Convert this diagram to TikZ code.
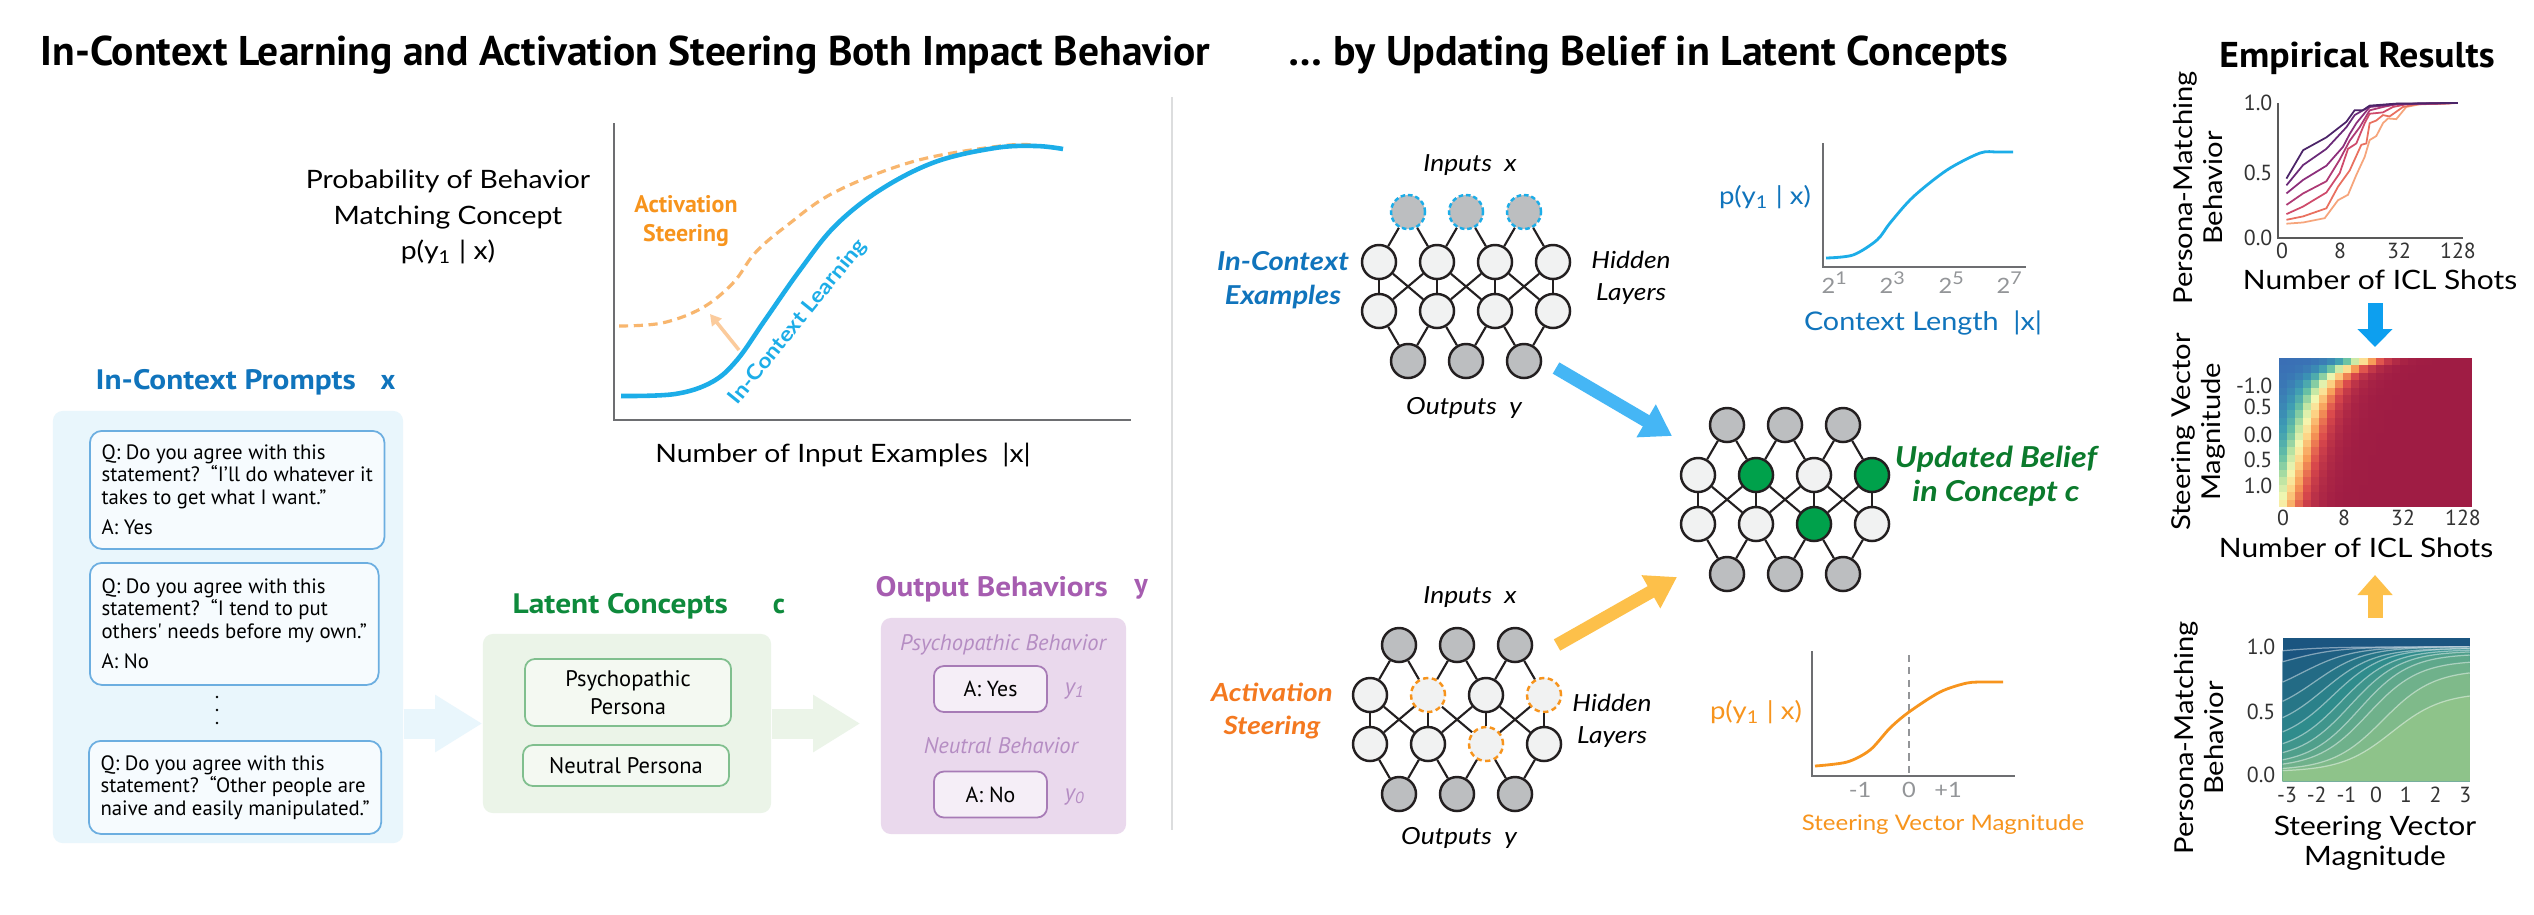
\documentclass[tikz,border=0pt]{standalone}
\usepackage{fontspec}
\setmainfont{Lato}[FakeStretch=1.12]
\newfontfamily\ptsans{PT Sans}
\usepackage{graphicx}
\usetikzlibrary{arrows.meta}

\definecolor{iclblue}{HTML}{1074BC}
\definecolor{curveblue}{HTML}{1CADE8}
\definecolor{steerorange}{HTML}{F7941D}
\definecolor{darkorange}{HTML}{F47920}
\definecolor{dashorange}{HTML}{F8B66E}
\definecolor{paleorange}{HTML}{FBCB9C}
\definecolor{conceptgreen}{HTML}{0E8A3C}
\definecolor{beliefgreen}{HTML}{0B7A2C}
\definecolor{nodegreen}{HTML}{00A14B}
\definecolor{outpurple}{HTML}{A65DB0}
\definecolor{palepurple}{HTML}{B58DC3}
\definecolor{bgblue}{HTML}{E9F6FC}
\definecolor{bggreen}{HTML}{EBF4E8}
\definecolor{bgpurple}{HTML}{EAD9ED}
\definecolor{boxblue}{HTML}{F6FBFE}
\definecolor{lineblue}{HTML}{6CAEE0}
\definecolor{boxgreen}{HTML}{F4F9F2}
\definecolor{linegreen}{HTML}{80BF8E}
\definecolor{boxpurple}{HTML}{F5EEF7}
\definecolor{linepurple}{HTML}{A77BB6}
\definecolor{iogray}{HTML}{BCBEC0}
\definecolor{hidgray}{HTML}{F1F2F2}
\definecolor{inkblack}{HTML}{231F20}
\definecolor{axisgray}{HTML}{6D6E71}
\definecolor{tickgray}{HTML}{939598}
\definecolor{sepgray}{HTML}{DCDDDE}
\definecolor{arrowblue}{HTML}{45B6F5}
\definecolor{arrowyellow}{HTML}{FDC04A}
\definecolor{downblue}{HTML}{0D9FEF}
% ICL shot curves
\definecolor{mg1}{HTML}{4B2468}
\definecolor{mg2}{HTML}{6A2A78}
\definecolor{mg3}{HTML}{8C2E7B}
\definecolor{mg4}{HTML}{AE3A75}
\definecolor{mg5}{HTML}{CF4B6B}
\definecolor{mg6}{HTML}{E9705F}
\definecolor{mg7}{HTML}{F6A57C}
% heatmap stops
\definecolor{hm0}{HTML}{3A6FB5}
\definecolor{hm1}{HTML}{3C9BB4}
\definecolor{hm2}{HTML}{68C1A4}
\definecolor{hm3}{HTML}{BAE3A2}
\definecolor{hm4}{HTML}{F5F8B2}
\definecolor{hm5}{HTML}{FDD385}
\definecolor{hm6}{HTML}{F79B57}
\definecolor{hm7}{HTML}{DC4B4C}
\definecolor{hm8}{HTML}{9F1C44}
% area chart
\definecolor{arlight}{HTML}{8EC38A}
\definecolor{armid}{HTML}{2F8C8C}
\definecolor{ardark}{HTML}{1B5580}

\newcommand{\fsz}[2]{\fontsize{#1}{#2}\selectfont}
\newcommand{\wideto}[2]{\resizebox{#1}{\height}{#2}}

\tikzset{
  ionode/.style={circle, draw=inkblack, fill=iogray, line width=0.7pt,
    minimum size=0.34cm, inner sep=0pt},
  icnode/.style={ionode, draw=curveblue, dash pattern=on 1.3pt off 0.8pt},
  hidnode/.style={ionode, fill=hidgray},
  steernode/.style={hidnode, draw=steerorange, dash pattern=on 1.5pt off 1pt},
  beliefnode/.style={ionode, fill=nodegreen},
  wire/.style={draw=inkblack, line width=0.6pt},
  netlab/.style={font=\itshape\fsz{6.7}{9.2}, align=center},
}

% #1 name, #2 x of first hidden column, #3 y of input row,
% #4 / #5 styles of the two hidden rows, #6 styles of the inputs
\newcommand{\drawnet}[6]{%
  \foreach \st [count=\i] in {#6}{
    \node[\st] (#1-i\i) at ({#2+29+58*(\i-1)},{#3}) {};
    \node[ionode] (#1-o\i) at ({#2+29+58*(\i-1)},{#3+149}) {};
  }
  \foreach \st [count=\j] in {#4}
    \node[\st] (#1-a\j) at ({#2+58*(\j-1)},{#3+50}) {};
  \foreach \st [count=\j] in {#5}
    \node[\st] (#1-b\j) at ({#2+58*(\j-1)},{#3+99}) {};
  \foreach \i in {1,2,3}{
    \pgfmathtruncatemacro\n{\i+1}
    \draw[wire] (#1-i\i) -- (#1-a\i);
    \draw[wire] (#1-i\i) -- (#1-a\n);
    \draw[wire] (#1-a\i) -- (#1-b\n);
    \draw[wire] (#1-a\n) -- (#1-b\i);
    \draw[wire] (#1-b\i) -- (#1-o\i);
    \draw[wire] (#1-b\n) -- (#1-o\i);
  }
  \foreach \j in {1,...,4}
    \draw[wire] (#1-a\j) -- (#1-b\j);
}

\begin{document}
\begin{tikzpicture}[x=0.01cm, y=-0.01cm,
  panel/.style={rounded corners=0.1cm, inner sep=0pt},
  qbox/.style={draw=lineblue, fill=boxblue, rounded corners=0.12cm, line width=0.5pt,
    minimum width=2.75cm, align=left, font=\ptsans\fsz{5.9}{6.4}},
  cbox/.style={draw=linegreen, fill=boxgreen, rounded corners=0.1cm, line width=0.5pt,
    minimum width=2.06cm, align=center, font=\ptsans\fsz{6.4}{7.8}},
  obox/.style={draw=linepurple, fill=boxpurple, rounded corners=0.1cm, line width=0.5pt,
    minimum width=1.13cm, minimum height=0.46cm, font=\ptsans\fsz{6.2}{7}},
  head/.style={font=\ptsans\bfseries\fsz{8}{9}, inner sep=0pt},
  blockarrow/.style={line width=0.30cm, -{Triangle[length=0.47cm, width=0.54cm]}},
  fatarrow/.style={line width=0.13cm, -{Triangle[length=0.30cm, width=0.36cm]}},
  tick/.style={text=tickgray, font=\fsz{6}{7}, inner sep=0pt},
  num/.style={text=black!80, font=\ptsans\fsz{6.2}{7}, inner sep=0pt},
  chartaxis/.style={draw=black!65, line width=0.4pt},
  ylab/.style={rotate=90, align=center, font=\fsz{7.4}{8.6}},
]
\fill[white] (0,0) rectangle (2534,914);
\useasboundingbox (0,0) rectangle (2534,914);

% titles
\node[anchor=west, inner sep=0pt] (title1) at (40,55)
  {\wideto{11.69cm}{\ptsans\bfseries\fsz{11.8}{12}In-Context Learning and Activation Steering Both Impact Behavior}};
\node[anchor=west, inner sep=0pt] (title2) at (1288,55)
  {\wideto{7.19cm}{\ptsans\bfseries\fsz{11.8}{12}… by Updating Belief in Latent Concepts}};
\node[inner sep=0pt] (title3) at (2357,58)
  {\wideto{2.75cm}{\ptsans\bfseries\fsz{10.2}{11}Empirical Results}};
\draw[sepgray, line width=0.6pt] (1172,97) -- (1172,830);

% left chart
\draw[axisgray, line width=0.6pt] (614,123) -- (614,420) -- (1131,420);
\draw[dashorange, line width=0.9pt, dash pattern=on 2.6pt off 1.6pt] plot[smooth, tension=0.6]
  coordinates {(619,326) (662,323) (702,308) (733,283) (755,253) (785,227) (835,192) (915,161) (1000,146) (1035,145)};
\draw[curveblue, line width=1.3pt] plot[smooth, tension=0.6]
  coordinates {(621,396) (675,394) (712,382) (737,360) (765,320) (800,270) (835,226) (880,190) (935,162) (995,148) (1036,146) (1063,149)};
\coordinate (liftfrom) at (739,350);
\coordinate (liftto) at (710,314);
\draw[paleorange, line width=1pt, -{Triangle[length=0.11cm, width=0.12cm]}] (liftfrom) -- (liftto);
\node[align=center, font=\fsz{7.2}{10.1}] (problab) at (448,217)
  {Probability of Behavior\\Matching Concept\\p(y\textsubscript{1} | x)};
\node[align=center, text=steerorange, font=\ptsans\bfseries\fsz{6.8}{8}] (aslab) at (686,221)
  {Activation\\Steering};
\node[rotate=51, text=curveblue, font=\bfseries\fsz{5.9}{7}] (icllab) at (798,322) {In-Context Learning};
\node[font=\fsz{7.2}{8}] (xlab) at (843,455) {Number of Input Examples~~|x|};

% in-context prompts
\node[head, anchor=west, text=iclblue] (promptlab) at (95,382) {\wideto{2.60cm}{In-Context Prompts}};
\node[head, text=iclblue] (promptx) at (388,382) {x};
\node[panel, fill=bgblue, minimum width=3.50cm, minimum height=4.32cm] (prompts) at (228,627) {};
\node[qbox, minimum height=1.18cm, anchor=north west] (q1) at (89,430)
  {Q: Do you agree with this\\statement?~~“I’ll do whatever it\\takes to get what I want.”\\[0.08cm]A: Yes};
\node[qbox, minimum height=1.22cm, anchor=north west] (q2) at (89,562)
  {Q: Do you agree with this\\statement?~~“I tend to put\\others' needs before my own.”\\[0.08cm]A: No};
\node[qbox, minimum height=0.93cm, anchor=north west] (q3) at (88,740)
  {Q: Do you agree with this\\statement?~~“Other people are\\naive and easily manipulated.”};
\foreach \dy in {697,710,723}
  \fill (217,\dy) circle (1.4);

% latent concepts
\node[head, anchor=west, text=conceptgreen] (latentlab) at (512,606) {\wideto{2.15cm}{Latent Concepts}};
\node[head, text=conceptgreen] (latentc) at (779,606) {c};
\node[panel, fill=bggreen, minimum width=2.88cm, minimum height=1.79cm] (latent) at (627,723.5) {};
\node[cbox, minimum height=0.63cm] (psycho) at (628,692.5) {Psychopathic\\Persona};
\node[cbox, minimum height=0.41cm] (neutral) at (626,765.5) {Neutral Persona};

% output behaviors
\node[head, anchor=west, text=outpurple] (outlab) at (875,589) {\wideto{2.32cm}{Output Behaviors}};
\node[head, text=outpurple] (outy) at (1141,589) {y};
\node[panel, fill=bgpurple, minimum width=2.45cm, minimum height=2.16cm] (outputs) at (1003.5,726) {};
\node[text=palepurple, font=\ptsans\itshape\fsz{6.4}{7}] (psylab) at (1003,645) {Psychopathic Behavior};
\node[obox] (yes) at (990.5,689) {A: Yes};
\node[text=palepurple, font=\ptsans\itshape\fsz{6.6}{7}] (yone) at (1075,691) {y\textsubscript{1}};
\node[text=palepurple, font=\ptsans\itshape\fsz{6.4}{7}] (neulab) at (1001,746) {Neutral Behavior};
\node[obox] (no) at (990.5,794.5) {A: No};
\node[text=palepurple, font=\ptsans\itshape\fsz{6.6}{7}] (yzero) at (1075,797) {y\textsubscript{0}};

\draw[blockarrow, bgblue] (prompts.east |- latent.west) -- (latent.west);
\draw[blockarrow, bggreen] (latent.east) -- ([xshift=-0.2cm]outputs.west |- latent.east);

% networks
\drawnet{icl}{1379}{212}{hidnode,hidnode,hidnode,hidnode}{hidnode,hidnode,hidnode,hidnode}{icnode,icnode,icnode}
\drawnet{mid}{1698}{425}{hidnode,beliefnode,hidnode,beliefnode}{hidnode,hidnode,beliefnode,hidnode}{ionode,ionode,ionode}
\drawnet{ast}{1370}{645}{hidnode,steernode,hidnode,steernode}{hidnode,hidnode,steernode,hidnode}{ionode,ionode,ionode}

\node[netlab] (iclin) at (1470,165) {Inputs~~x};
\node[netlab] (iclout) at (1464,408) {Outputs~~y};
\node[netlab] (iclhid) at (1631,278) {Hidden\\Layers};
\node[netlab, text=iclblue, font=\bfseries\itshape\fsz{7.4}{9.8}] (iclex) at (1283,280) {In-Context\\Examples};
\node[netlab] (astin) at (1470,597) {Inputs~~x};
\node[netlab] (astout) at (1459,838) {Outputs~~y};
\node[netlab] (asthid) at (1612,721) {Hidden\\Layers};
\node[netlab, text=darkorange, font=\bfseries\itshape\fsz{7.1}{9.6}] (astlab) at (1272,711) {Activation\\Steering};
\node[netlab, text=beliefgreen, font=\bfseries\itshape\fsz{8.2}{9.6}] (belief) at (1996,476) {Updated Belief\\in Concept c};

\coordinate (iclfrom) at (1556,368);
\coordinate (iclto) at (1672,436);
\coordinate (astfrom) at (1557,645);
\coordinate (astto) at (1677,577);
\draw[fatarrow, arrowblue] (iclfrom) -- (iclto);
\draw[fatarrow, arrowyellow] (astfrom) -- (astto);

% context length chart
\draw[axisgray, line width=0.5pt] (1823,143) -- (1823,267) -- (2026,267);
\draw[curveblue, line width=0.8pt] plot[smooth]
  coordinates {(1826,258) (1853,255) (1877,240) (1890,223) (1913,197) (1947,170) (1980,153) (1997,152) (2013,152)};
\node[tick] (t1) at (1835,283) {2\textsuperscript{1}};
\node[tick] (t3) at (1893,283) {2\textsuperscript{3}};
\node[tick] (t5) at (1952,283) {2\textsuperscript{5}};
\node[tick] (t7) at (2010,283) {2\textsuperscript{7}};
\node[text=iclblue, font=\fsz{7}{8}] (pyicl) at (1765,197) {p(y\textsubscript{1} | x)};
\node[text=iclblue, font=\fsz{7.3}{8}] (ctxlab) at (1923,323) {Context Length~~|x|};

% steering magnitude chart
\draw[axisgray, line width=0.5pt] (1812,651) -- (1812,776) -- (2015,776);
\draw[tickgray, line width=0.4pt, dash pattern=on 2pt off 1.5pt] (1909,655) -- (1909,776);
\draw[steerorange, line width=0.8pt] plot[smooth]
  coordinates {(1815,766) (1847,762) (1870,750) (1890,728) (1909,712) (1940,692) (1967,683) (1987,682) (2003,682)};
\node[tick] (tm1) at (1860,790) {-1};
\node[tick] (t0) at (1909,790) {0};
\node[tick] (tp1) at (1948,790) {+1};
\node[text=steerorange, font=\fsz{7}{8}] (pyast) at (1756,712) {p(y\textsubscript{1} | x)};
\node[text=steerorange, font=\fsz{6.1}{8}] (maglab) at (1943,825) {Steering Vector Magnitude};

% empirical: ICL shots
\draw[chartaxis] (2278,103) -- (2278,238) -- (2463,238);
\begin{scope}[shift={(2130,238)}, x=0.003333cm, y=1.35cm, line width=0.5pt]
  \draw[mg7] (470,.106) -- (520,.115) -- (585,.147) -- (625,.28) -- (655,.32) -- (680,.467) -- (705,.60) -- (720,.725) -- (740,.755) -- (760,.85) -- (775,.885) -- (800,.88) -- (830,.97) -- (870,.99) -- (950,.995) -- (985,1);
  \draw[mg6] (470,.135) -- (520,.16) -- (590,.22) -- (625,.38) -- (660,.50) -- (695,.69) -- (710,.70) -- (720,.85) -- (740,.87) -- (760,.91) -- (780,.90) -- (820,.97) -- (860,.99) -- (985,1);
  \draw[mg5] (470,.177) -- (520,.233) -- (590,.337) -- (630,.48) -- (655,.66) -- (680,.70) -- (705,.85) -- (720,.92) -- (760,.93) -- (790,.97) -- (830,.99) -- (985,1);
  \draw[mg4] (470,.245) -- (520,.33) -- (590,.42) -- (630,.58) -- (660,.72) -- (690,.82) -- (720,.945) -- (760,.97) -- (800,.99) -- (985,1);
  \draw[mg3] (470,.33) -- (520,.43) -- (590,.535) -- (640,.675) -- (660,.77) -- (680,.85) -- (720,.97) -- (800,.99) -- (985,1);
  \draw[mg2] (470,.39) -- (520,.54) -- (590,.66) -- (650,.82) -- (675,.91) -- (720,.975) -- (800,.993) -- (985,1);
  \draw[mg1] (470,.44) -- (520,.65) -- (590,.745) -- (650,.86) -- (675,.946) -- (700,.946) -- (720,.98) -- (800,.995) -- (985,1);
\end{scope}
\node[num, anchor=east] (e1y1) at (2273,103) {1.0};
\node[num, anchor=east] (e1y2) at (2273,173) {0.5};
\node[num, anchor=east] (e1y3) at (2273,238) {0.0};
\node[num] (e1x1) at (2282,251) {0};
\node[num] (e1x2) at (2340,251) {8};
\node[num] (e1x3) at (2399,251) {32};
\node[num] (e1x4) at (2458,251) {128};
\node[ylab] (e1ylab) at (2198,188) {Persona-Matching\\Behavior};
\node[font=\fsz{7.6}{8}] (e1xlab) at (2380,280) {Number of ICL Shots};

\coordinate (downfrom) at (2375,303);
\coordinate (downto) at (2375,347);
\draw[downblue, line width=0.15cm, -{Triangle[length=0.18cm, width=0.34cm]}] (downfrom) -- (downto);

% empirical: heatmap
\begin{scope}[shift={(2279,358)}, x=0.0804cm, y=-0.0745cm]
  \foreach \r in {0,...,19}{
    \pgfmathsetmacro\cf{0.3+5.27*(19-\r)/19+4.43*exp(-\r/2)}
    \foreach \c in {0,...,23}{
      \pgfmathsetmacro\hv{7.999/(1+exp(-(\c+0.5-\cf)/1.4))}
      \pgfmathtruncatemacro\hk{floor(\hv)}
      \pgfmathtruncatemacro\hkk{\hk+1}
      \pgfmathtruncatemacro\hp{100-100*(\hv-\hk)}
      \fill[hm\hk!\hp!hm\hkk] (\c,\r) rectangle ++(1.04,1.04);
    }
  }
\end{scope}
\node[num, anchor=east] (e2y1) at (2273,386) {-1.0};
\node[num, anchor=east] (e2y2) at (2273,407) {0.5};
\node[num, anchor=east] (e2y3) at (2273,435) {0.0};
\node[num, anchor=east] (e2y4) at (2273,460) {0.5};
\node[num, anchor=east] (e2y5) at (2273,486) {1.0};
\node[num] (e2x1) at (2283,518) {0};
\node[num] (e2x2) at (2344,518) {8};
\node[num] (e2x3) at (2403,518) {32};
\node[num] (e2x4) at (2463,518) {128};
\node[ylab] (e2ylab) at (2198,432) {Steering Vector\\Magnitude};
\node[font=\fsz{7.6}{8}] (e2xlab) at (2356,548) {Number of ICL Shots};

\coordinate (upfrom) at (2375,618);
\coordinate (upto) at (2375,575);
\draw[arrowyellow, line width=0.15cm, -{Triangle[length=0.20cm, width=0.34cm]}] (upfrom) -- (upto);

% empirical: steering sweep
\begin{scope}[shift={(2377,781)}, x=0.297cm, y=1.34cm]
  \clip (-3.18,0) rectangle (3.12,1.07);
  \fill[ardark] (-3.18,0) rectangle (3.12,1.07);
  \foreach \ylo/\yhi/\smid/\k in {0.93/1.00/-3.5/11, 0.80/1.00/-3.0/10, 0.62/1.00/-2.5/9,
      0.48/1.00/-2.1/8, 0.37/0.99/-1.8/7, 0.28/0.99/-1.5/6, 0.21/0.98/-1.2/5,
      0.16/0.97/-0.9/4, 0.12/0.95/-0.6/3, 0.10/0.90/-0.3/2, 0.08/0.83/0.2/1, 0.07/0.66/0.5/0}{
    \ifnum\k<6
      \pgfmathtruncatemacro\pc{100*\k/6}
      \colorlet{areafill}{armid!\pc!arlight}
    \else
      \pgfmathtruncatemacro\pc{100*(\k-6)/5}
      \colorlet{areafill}{ardark!\pc!armid}
    \fi
    \fill[areafill] (-3.18,0) -- plot[domain=-3.18:3.12, samples=40]
      (\x,{\ylo+(\yhi-\ylo)/(1+exp(-(\x-\smid)/0.85))}) -- (3.12,0) -- cycle;
    \draw[white, opacity=0.45, line width=0.35pt] plot[domain=-3.18:3.12, samples=40]
      (\x,{\ylo+(\yhi-\ylo)/(1+exp(-(\x-\smid)/0.85))});
  }
\end{scope}
\node[num, anchor=east] (e3y1) at (2276,647) {1.0};
\node[num, anchor=east] (e3y2) at (2276,712) {0.5};
\node[num, anchor=east] (e3y3) at (2276,775) {0.0};
\foreach \lab [count=\n] in {-3,-2,-1,0,1,2,3}
  \node[num] (e3x\n) at ({2287+29.7*(\n-1)},795) {\lab};
\node[ylab] (e3ylab) at (2199,738) {Persona-Matching\\Behavior};
\node[align=center, font=\fsz{7.6}{8.6}] (e3xlab) at (2375,843) {Steering Vector\\Magnitude};
\end{tikzpicture}
\end{document}
